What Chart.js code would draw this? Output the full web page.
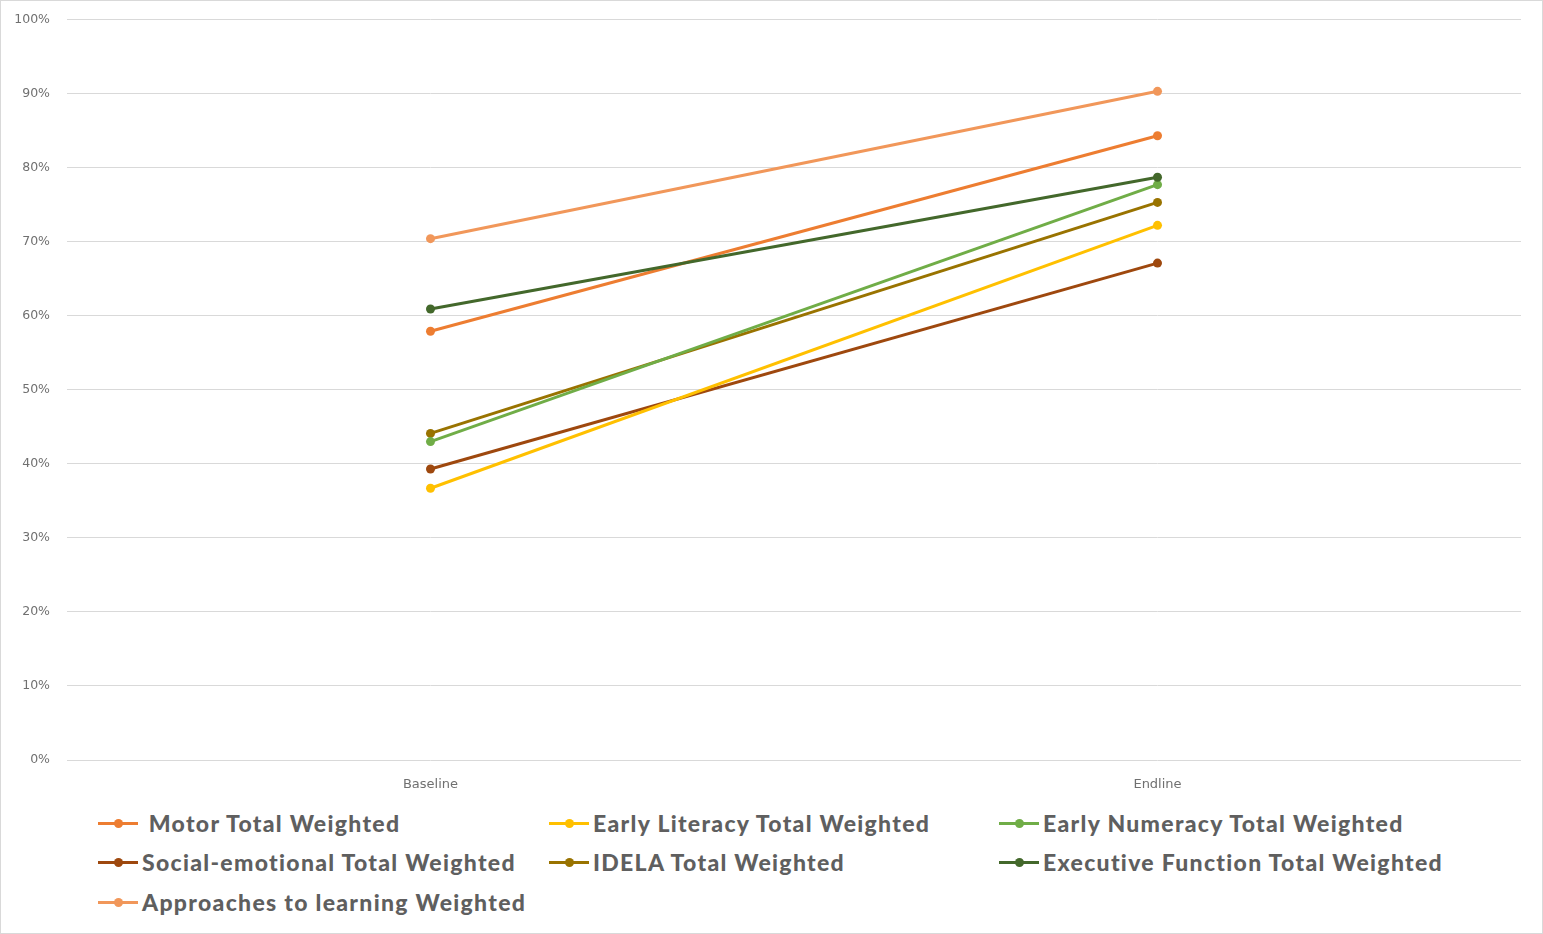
<!DOCTYPE html>
<html>
<head>
<meta charset="utf-8">
<script src="https://cdn.jsdelivr.net/npm/chart.js@4/dist/chart.umd.min.js"></script>
<style>
  html, body { margin: 0; padding: 0; background: #fff; }
  #wrap { position: relative; width: 1541px; height: 932px; border: 1px solid #d9d9d9; overflow: hidden; }
  #chartBox { position: absolute; left: -1px; top: -6px; width: 1543px; height: 805px; }
  #legend { position: absolute; left: 97px; top: 807px; width: 1420px; }
  .item { position: absolute; height: 30px; display: flex; align-items: center;
          font-family: Lato, "Open Sans", sans-serif; font-weight: 900; font-size: 23px;
          letter-spacing: 1.3px; color: #5f5f5f; white-space: pre; }
  .sym { position: relative; width: 40px; height: 30px; margin-right: 4px; }
  .sym .ln { position: absolute; left: 0; top: 14px; width: 40px; height: 3px; }
  .sym .dt { position: absolute; left: 16px; top: 11px; width: 9px; height: 9px; border-radius: 50%; }
</style>
</head>
<body>
<div id="wrap">
  <div id="chartBox"><canvas id="c"></canvas></div>
  <div id="legend"></div>
</div>
<script>
// Survey rounds
const rounds = ['Baseline', 'Endline'];

// Weighted domain scores (share of maximum)
const motor            = [0.579, 0.843];
const earlyLiteracy    = [0.367, 0.722];
const earlyNumeracy    = [0.430, 0.777];
const socialEmotional  = [0.393, 0.671];
const idela            = [0.441, 0.753];
const executiveFunc    = [0.609, 0.787];
const approaches       = [0.704, 0.903];

const seriesNames = [
  ' Motor Total Weighted',
  'Early Literacy Total Weighted',
  'Early Numeracy Total Weighted',
  'Social-emotional Total Weighted',
  'IDELA Total Weighted',
  'Executive Function Total Weighted',
  'Approaches to learning Weighted'
];
const seriesValues = [motor, earlyLiteracy, earlyNumeracy, socialEmotional, idela, executiveFunc, approaches];
const seriesColors = ['#ED7D31', '#FFC000', '#70AD47', '#9E480E', '#997300', '#43682B', '#F1975A'];

// Draw order: later datasets are painted on top
const drawOrder = [6, 3, 1, 4, 2, 0, 5];

const datasets = seriesNames.map((name, i) => ({
  label: name,
  data: seriesValues[i],
  borderColor: seriesColors[i],
  backgroundColor: seriesColors[i],
  borderWidth: 3,
  pointRadius: 4.5,
  pointHoverRadius: 4.5,
  pointBorderWidth: 0,
  order: drawOrder.length - drawOrder.indexOf(i),
  tension: 0
}));

const tickFont = 'DejaVu Sans, sans-serif';

const chart = new Chart(document.getElementById('c'), {
  type: 'line',
  data: { labels: rounds, datasets },
  options: {
    responsive: true,
    maintainAspectRatio: false,
    animation: false,
    layout: { padding: { left: 10, right: 22, top: 14, bottom: 0 } },
    plugins: { legend: { display: false }, tooltip: { enabled: false } },
    scales: {
      x: {
        offset: true,
        grid: { display: false, drawTicks: false },
        border: { display: false },
        ticks: { color: '#707070', font: { family: tickFont, size: 13 }, padding: 17 },
        afterFit: s => { s.height = 40; }
      },
      y: {
        min: 0, max: 1,
        grid: { color: '#d9d9d9', lineWidth: 1, drawTicks: false },
        border: { display: false },
        ticks: {
          stepSize: 0.1,
          color: '#707070',
          font: { family: tickFont, size: 12.5 },
          padding: 17,
          callback: v => Math.round(v * 100) + '%'
        },
        afterFit: s => { s.width = 57; }
      }
    }
  }
});

// Legend laid out in three columns below the plot
const legendEl = document.getElementById('legend');
const colX = [0, 451, 901];
const rowY = [0, 39, 79];
chart.data.datasets.forEach((ds, i) => {
  const item = document.createElement('div');
  item.className = 'item';
  item.style.left = colX[i % 3] + 'px';
  item.style.top = rowY[Math.floor(i / 3)] + 'px';
  item.innerHTML = '<div class="sym"><div class="ln" style="background:' + ds.borderColor +
    '"></div><div class="dt" style="background:' + ds.borderColor + '"></div></div>';
  const t = document.createElement('span');
  t.textContent = ds.label;
  item.appendChild(t);
  legendEl.appendChild(item);
});
</script>
</body>
</html>
